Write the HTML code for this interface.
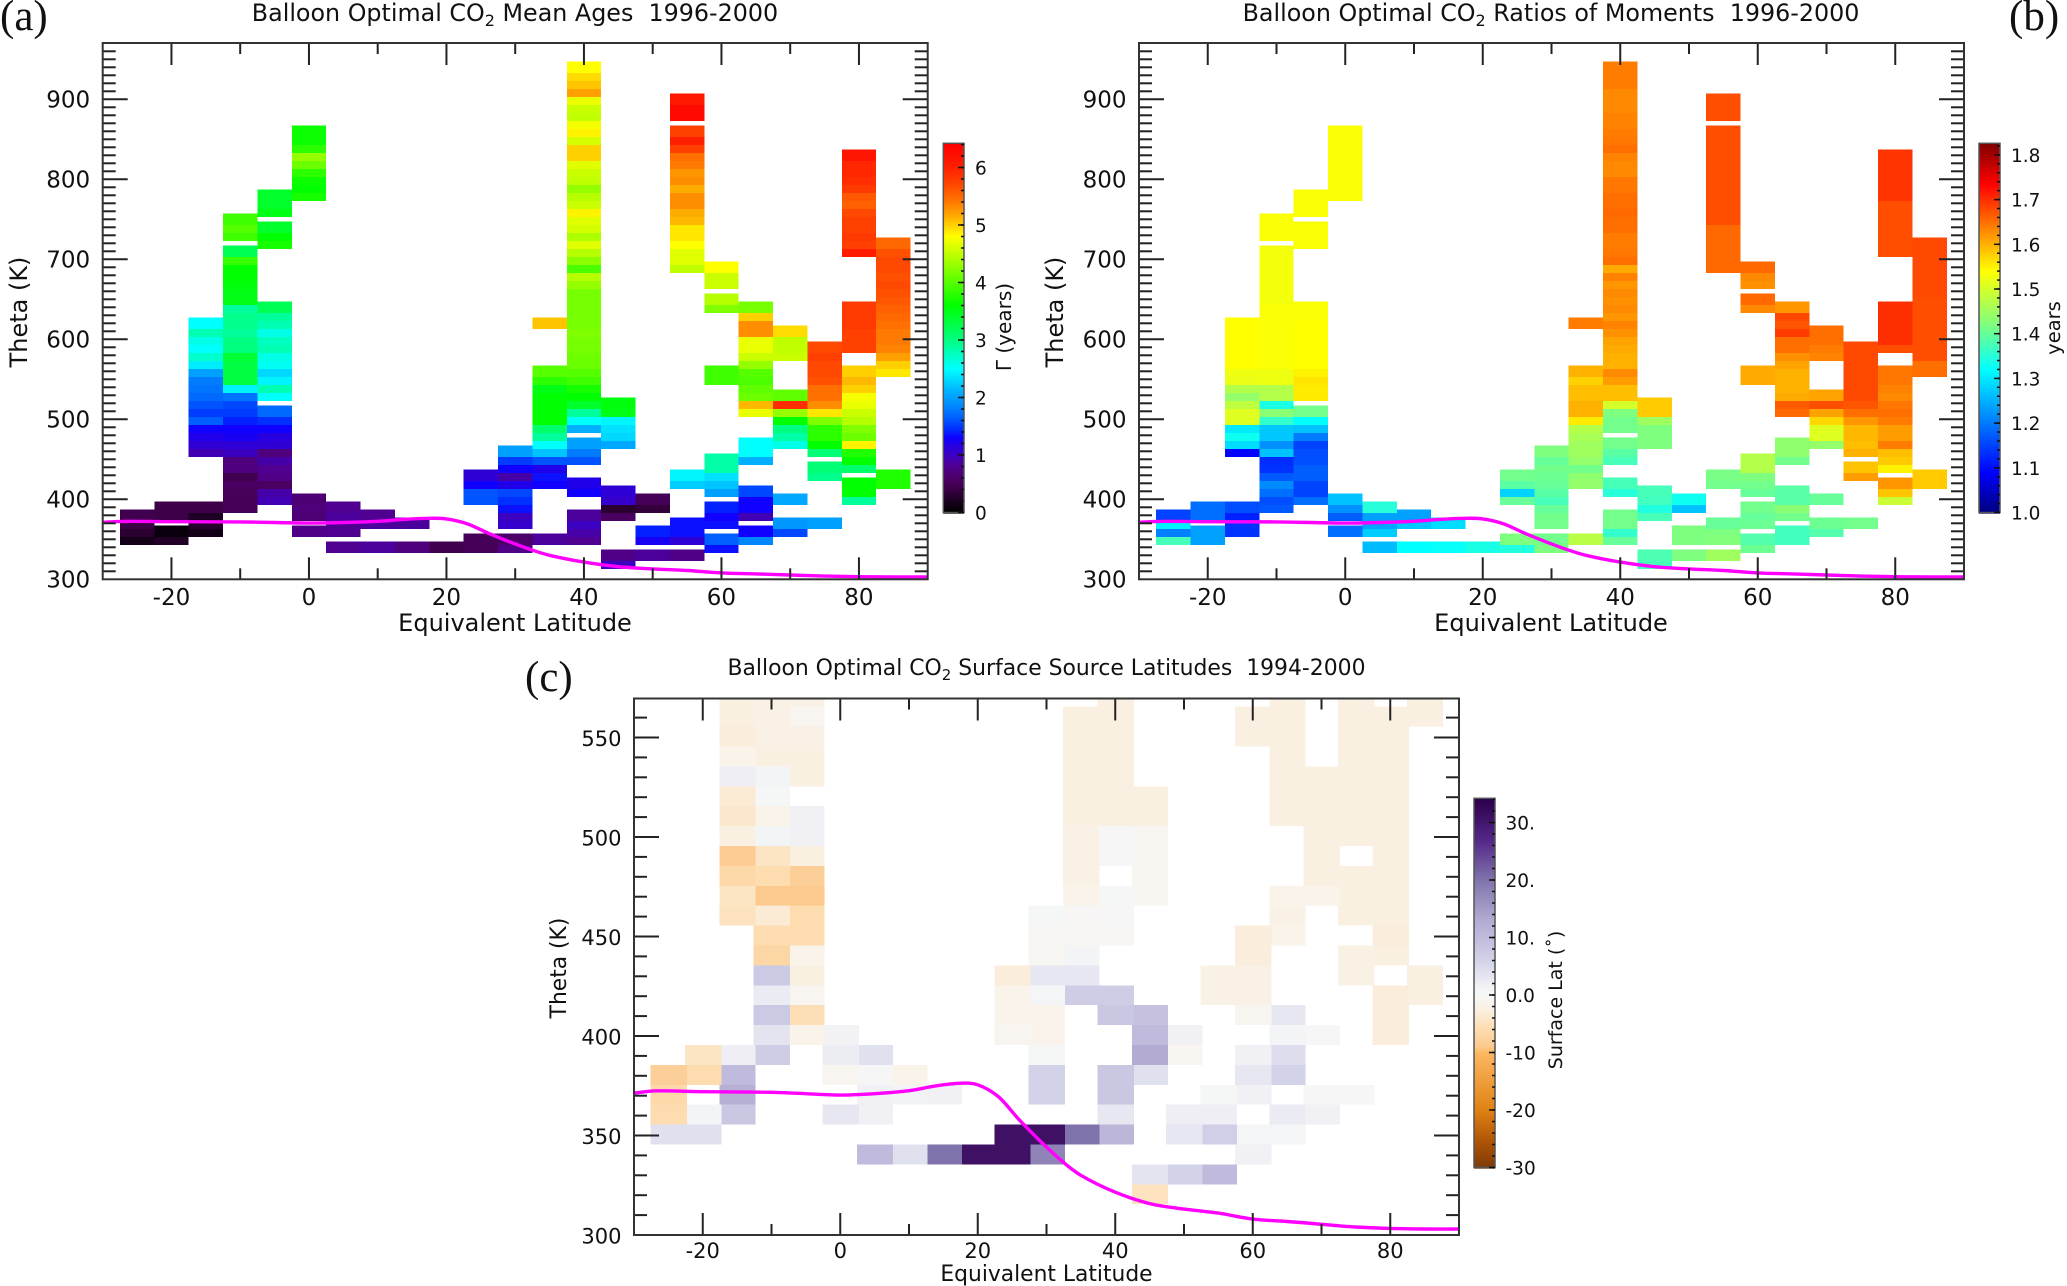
<!DOCTYPE html>
<html lang="en">
<head>
<meta charset="utf-8">
<title>Balloon Optimal CO2 panels</title>
<style>
html,body{margin:0;padding:0;background:#fff;}
svg{display:block;}
text{font-family:"DejaVu Sans","Liberation Sans",sans-serif;fill:#111;white-space:pre;}
.serif{font-family:"Liberation Serif","DejaVu Serif",serif;font-size:43px;}
.title-a{font-size:23.8px;}
.title-c{font-size:21.9px;}
.axis-big{font-size:23px;}
.axis-small{font-size:21px;}
.axis-title-big{font-size:24px;}
.axis-title-small{font-size:21.8px;}
.cb{font-size:18.5px;}
</style>
</head>
<body>
<svg id="figure" xmlns="http://www.w3.org/2000/svg" width="2067" height="1286" viewBox="0 0 2067 1286">
  <rect width="2067" height="1286" fill="#fff"/>
  <g id="panel-a"></g>
  <g id="panel-b"></g>
  <g id="panel-c"></g>

  <text class="serif" x="0" y="30">(a)</text>
  <text class="serif" x="2009" y="30">(b)</text>
  <text class="serif" x="525" y="691">(c)</text>

  <text class="title-a" x="515" y="21" text-anchor="middle">Balloon Optimal CO<tspan font-size="16" dy="5">2</tspan><tspan dy="-5"> Mean Ages  1996-2000</tspan></text>
  <text class="title-a" x="1551" y="21" text-anchor="middle">Balloon Optimal CO<tspan font-size="16" dy="5">2</tspan><tspan dy="-5"> Ratios of Moments  1996-2000</tspan></text>
  <text class="title-c" x="1046.5" y="675" text-anchor="middle">Balloon Optimal CO<tspan font-size="15" dy="5">2</tspan><tspan dy="-5"> Surface Source Latitudes  1994-2000</tspan></text>

  <text class="axis-title-big" x="515" y="631" text-anchor="middle">Equivalent Latitude</text>
  <text class="axis-title-big" x="1551" y="631" text-anchor="middle">Equivalent Latitude</text>
  <text class="axis-title-small" x="1046.5" y="1281" text-anchor="middle">Equivalent Latitude</text>

  <text class="axis-title-big" transform="translate(27,312) rotate(-90)" text-anchor="middle">Theta (K)</text>
  <text class="axis-title-big" transform="translate(1063,312) rotate(-90)" text-anchor="middle">Theta (K)</text>
  <text class="axis-title-small" transform="translate(566,968) rotate(-90)" text-anchor="middle">Theta (K)</text>

  <text font-size="20" transform="translate(1011,327) rotate(-90)" text-anchor="middle">Γ (years)</text>
  <text font-size="19.5" transform="translate(2060,328) rotate(-90)" text-anchor="middle">years</text>
  <text font-size="19" transform="translate(1562,1000) rotate(-90)" text-anchor="middle">Surface Lat (˚)</text>
</svg>
<script>
// ---- chart data -------------------------------------------------------
// Tropopause curve (latitude, theta K), shared by all panels
const tropopauseLat = [-30,-27,-20,-10,-5,0,5,10,14,17.5,20,23,26,29,32.3,35,40,45,50,55,60,65,70,75,80,85,90];
const tropopauseTheta = [371.3,372.4,372,371.7,371,370.3,371,372.5,375,376.3,375.5,369.5,358,347.5,337,330,321.5,315.8,313,311,308,306.8,305.4,304,303.3,303,303];

const xMajorTicks = [-20,0,20,40,60,80];
const xMinorTicks = [-10,10,30,50,70];
const thetaMajorAB = [300,400,500,600,700,800,900];
const thetaMajorC = [300,350,400,450,500,550];
const ageBarTicks = [0,1,2,3,4,5,6];
const ratioBarTicks = [1.0,1.1,1.2,1.3,1.4,1.5,1.6,1.7,1.8];
const surfaceBarTicks = [-30,-20,-10,0,10,20,30];
const surfaceBarLabels = ['-30','-20','-10','0.0','10.','20.','30.'];

// Theta levels: level n has its lower edge at base + n*step
const abThetaBase = 333;
const cThetaBase = 315.5;

// Mean age (years): [latitude, first level, values upward...]
const ageColumns = [
[-25,1,.15,.3,.4,.45],
[-20,1,.25,.08],[-20,4,.42,.42],
[-15,2,.15,.28,.22,.42],
[-15,12,.95,1.1,1.2,1.3,1.65,1.5,1.6,1.7,1.75,1.8,2.0,2.4,2.7,2.5,2.6,2.8,2.5],
[-10,5,.5,.5,.5,.55,.45,.7,.7,1.0,1.1,1.25,1.3,1.4,1.5,1.55,1.75,2.45,3.3,3.3,3.3,3.35,3.0,3.0,2.9,2.95,2.95,2.9,3.5,3.5,3.55,3.6,3.6,3.85,3.2],
[-10,39,3.9,4.0,3.9],
[-5,6,.95,.9,.55,.75,.8,.9,.7,1.1,1.15,1.3,1.45,1.7],
[-5,19,2.5,2.8,2.45,2.3,2.55,2.6,2.8,2.75,2.6,2.8,2.9,3.2],
[-5,38,3.7,3.6,3.4],[-5,42,3.5,3.4,3.4],
[0,2,.75],[0,4,.65,.7,.65],[0,44,3.7,3.6,3.65,3.8,4.1,4.3,3.8,3.65,3.65],
[5,0,.8],[5,2,.8,.8,.85,.8],
[10,0,.85],[10,3,.85,.8],
[15,0,.7],[15,3,.85],
[20,0,.45],
[25,0,.5,.5],[25,6,1.6,1.6,1.3,1.1],
[30,0,.75,.6],[30,3,1.05,1.0,1.35,1.45,1.55,1.2,.9,1.3,1.5,2.0],
[35,1,.85],[35,8,1.3,1.35,1.2,1.6,2.2,2.5,2.9,3.1,3.6,3.6,3.6,3.6,3.5,3.8,4.0],[35,28,5.05],
[40,1,.8,.9,1.0,.85],[40,7,1.3,1.2],[40,11,1.6,1.8,2.0],
[40,15,2.1,2.5,2.9,3.4,3.6,3.7,3.9,4,4.1,4.1,4.15,4.15,4.2,4.15,4.15,4.15,4.15,4.15,4.3,4.45,3.95,4.25,4.45,4.65,4.4,4.6,4.65,4.85,4.55,4.45,4.3,4.5,4.55,4.65,5,5,4.6,4.85,4.75,4.5,4.55,4.7,5.2,5.05,4.95,4.8],
[45,-2,1.0,.75],[45,4,.55,.3,1.05,1.1],[45,13,2.05,2.3,2.35,2.45,3.5,3.55],
[50,-1,.85],[50,1,1.25,1.4],[50,5,.35,.5],
[55,-1,.75],[55,1,1.1,1.35,1.35],[55,8,2.25,2.45],
[55,35,4.5,4.65,4.65,4.8,4.9,4.9,5.1,5.15,5.3,5.3,5.15,5.3,5.25,5.4,5.45,5.75,6.0,5.75],[55,54,6.3,6.3,6.1],
[60,0,1.35,1.65],[60,3,1.35,1.3,1.4],[60,7,2.0,2.2,2.35,2.85,2.85],[60,21,3.9,3.9],[60,30,4.2,4.45],[60,33,4.55,4.55,4.8],
[65,1,1.85,1.3],[65,4,.95,1.3,1.3,1.55],[65,11,2.1,2.5,2.5],[65,17,4.7,5.1,4.1,4.05,3.95,4.0,4.3,4.55,4.7,4.7],[65,27,5.3,5.3,5.0,4.15],
[70,2,1.55,1.95],[70,6,2.05],[70,13,2.6,2.85,3.0,3.6,4.3,5.9,4.05],[70,24,4.55,4.5,4.5,4.95],
[75,3,2.0],[75,9,2.95,3.05],[75,12,3.05,3.6,3.8,3.8],[75,16,4.2,4.9,5.3,5.45,5.45,5.65,5.7,5.7,5.75,5.7],
[80,6,2.9,3.6,3.6],[80,10,3.1,3.6,3.75,4.85,4.1,4.2,4.45,4.55,4.7,4.75,5.0,5.1,5.0],[80,25,5.75,5.75,5.75,5.8,5.8,5.8],[80,37,6.05,5.75,5.8,5.75,5.75,5.7,5.55,5.6,5.8,5.9,5.95,5.95,6.15],
[85,8,3.75,3.75],[85,22,4.9,5.0,5.2,5.35,5.4,5.4,5.45,5.5,5.55,5.6,5.65,5.7,5.65,5.7,5.7,5.65,5.5]
];

// Ratio of moments (years): [latitude, first level, values upward...]
const ratioColumns = [
[-25,1,1.375,1.205,1.31,1.15],
[-20,1,1.235,1.235],[-20,4,1.19,1.19],
[-15,2,1.135,1.135,1.12,1.16],
[-15,12,1.09,1.29,1.33,1.30,1.51,1.51,1.48,1.44,1.47,1.52,1.525,1.54,1.54,1.54,1.54,1.54,1.54],
[-10,5,1.17,1.16,1.19,1.215,1.17,1.135,1.13,1.265,1.22,1.27,1.27,1.36,1.43,1.34,1.47,1.47,1.525,1.525,1.535,1.535,1.535,1.535,1.535,1.535,1.535,1.535,1.53,1.53,1.53,1.53,1.53,1.53,1.53],
[-10,39,1.535,1.535,1.535],
[-5,6,1.19,1.15,1.15,1.175,1.175,1.16,1.16,1.15,1.2,1.265,1.32,1.41],
[-5,19,1.555,1.555,1.56,1.55,1.54,1.54,1.54,1.54,1.54,1.54,1.535,1.535],
[-5,38,1.535,1.535,1.535],[-5,42,1.535,1.535,1.535],
[0,2,1.19],[0,4,1.175,1.22,1.265],[0,44,1.535,1.535,1.535,1.535,1.535,1.535,1.535,1.535,1.535],
[5,0,1.26],[5,2,1.275,1.24,1.235,1.35],
[10,0,1.32],[10,3,1.27,1.235],
[15,0,1.325],[15,3,1.29],
[20,0,1.34],
[25,0,1.345,1.42],[25,6,1.40,1.28,1.39,1.41],
[30,0,1.42,1.41],[30,3,1.41,1.41,1.40,1.375,1.39,1.40,1.405,1.41,1.40,1.42],
[35,1,1.475],[35,8,1.44,1.435,1.41,1.44,1.45,1.45,1.46,1.47,1.555,1.60,1.60,1.59,1.59,1.575,1.60],[35,28,1.64],
[40,1,1.40,1.36,1.41,1.41],[40,7,1.35,1.375],[40,11,1.375,1.39,1.41],
[40,15,1.41,1.41,1.42,1.5,1.59,1.59,1.615,1.63,1.60,1.60,1.605,1.61,1.625,1.635,1.62,1.63,1.625,1.63,1.62,1.635,1.605,1.65,1.645,1.64,1.64,1.65,1.65,1.655,1.65,1.65,1.645,1.645,1.63,1.63,1.635,1.65,1.645,1.64,1.635,1.635,1.63,1.63,1.63,1.64,1.64,1.64],
[45,-2,1.375,1.38],[45,4,1.375,1.345,1.37,1.375],[45,13,1.42,1.42,1.42,1.45,1.58,1.58],
[50,-1,1.42],[50,1,1.42,1.42],[50,5,1.265,1.33],
[55,-1,1.45],[55,1,1.425,1.42,1.40],[55,8,1.41,1.415],
[55,35,1.655,1.655,1.655,1.655,1.655,1.655,1.675,1.675,1.675,1.675,1.675,1.675,1.675,1.675,1.675,1.675,1.675,1.675],[55,54,1.675,1.675,1.675],
[60,0,1.405,1.385],[60,3,1.405,1.40,1.41],[60,7,1.40,1.41,1.42,1.47,1.47],[60,21,1.605,1.605],[60,30,1.63,1.655],[60,33,1.625,1.63,1.655],
[65,1,1.37,1.37],[65,4,1.41,1.43,1.39,1.39],[65,11,1.41,1.435,1.435],[65,17,1.655,1.665,1.605,1.6,1.6,1.6,1.61,1.625,1.65,1.65],[65,27,1.69,1.67,1.68,1.62],
[70,2,1.385,1.405],[70,6,1.40],[70,13,1.44,1.51,1.51,1.57,1.61,1.675,1.61],[70,24,1.635,1.64,1.65,1.65],
[75,3,1.41],[75,9,1.615,1.585],[75,12,1.60,1.59,1.595,1.595],[75,16,1.62,1.65,1.67,1.68,1.68,1.68,1.68,1.68,1.68,1.68],
[80,6,1.49,1.585,1.62],[80,10,1.55,1.58,1.59,1.64,1.615,1.615,1.64,1.65,1.645,1.63,1.635,1.645,1.645],[80,25,1.675,1.70,1.70,1.70,1.70,1.70],[80,37,1.675,1.675,1.675,1.675,1.675,1.675,1.675,1.695,1.695,1.695,1.695,1.695,1.695],
[85,8,1.58,1.58],[85,22,1.65,1.65,1.675,1.675,1.675,1.675,1.675,1.675,1.675,1.675,1.68,1.68,1.68,1.68,1.68,1.68,1.68]
];

// Surface source latitude (degrees): [latitude, first level, values upward...]
const surfaceColumns = [
[-25,3,4,-6,-6.5,-8],
[-20,3,4,1],[-20,6,-6,-4.5],
[-15,4,8,12,10,2],[-15,14,-5,-4.5,-6.5,-8.5,-2.5,-4,-3.5,2,-1.5,-3,-2.5,-2.5],
[-10,7,7,3.5,7.5,2.5,7.5,-7,-6,-3.5,-9,-6,-4.5,1,-1.5,.5,1,-2.5,-2,-2,-2],
[-5,8,-1.5,-5.5,-.7,-2.5,-1.5,-6,-6,-9,-8,-2.5,1.5,1.7],[-5,21,-2.5,-2.5,-2,-1,-2],
[0,4,3],[0,6,-.8,2.3,1.3],
[5,2,10],[5,4,1.5,1.5,.3,4],
[10,2,4],[10,5,1.2,-1.5],
[15,2,20],[15,5,1.5],
[20,2,31],
[25,2,31,31],[25,8,-1,-1.3,-1.5,-3],
[30,2,18,31],[30,5,6,6,.5,-1.3,-1.3,.7,3,-.5,-.5,.4],
[35,3,20],[35,10,7,3,1,-.5,-.3,-1.5,-2,-2,-2,-2.5,-2.5,-2.5,-2.5,-2.5,-2.5],
[40,3,11,3,8,8],[40,9,8,7],[40,13,-.5,.2,.5],[40,17,.3,.2,-2.5,-2.5,-2.5,-2.5,-2.5,-2.5,-2.5],
[45,0,-5,3.5],[45,6,4,13,10,9],[45,15,-1,-1,-1,-1,-2.5,-2.5],
[50,1,6],[50,3,3,2],[50,7,-1,1.5],
[55,1,10],[55,3,6.5,2,.5],[55,10,-2,-2],
[60,2,1.5,.7],[60,5,1.5,3,1.5],[60,9,-.7,-2,-2,-3,-3],[60,23,-2.5,-2.5],
[65,3,.7,2.5],[65,6,6,4.5,1,3],[65,13,-1.5,-2,-1.5],[65,19,-2.5,-2.5,-2.5,-2.5,-2.5,-2.5,-2.5],
[70,4,1.5,.3],[70,8,.3],[70,15,-1.5,-2.5,-2.5,-2.5,-2.5,-2.5,-2.5],
[75,5,.3],[75,11,-2.2,-2.2],[75,14,-2.5,-2.5,-2.5],[75,18,-2.5,-2.5,-2.5,-2.5,-2.5,-2.5,-2.5,-2.5],
[80,8,-3,-3,-3],[80,12,-2.5,-3,-2.5,-2.5,-2.5,-2.5,-2.5,-2.5,-2.5,-2.5,-2.5,-2.5,-2.5],
[85,10,-2.5,-2.5],[85,24,-2.5,-2.5]
];

// Colour tables: value, colour
const ageColorValues = [0,.2,.3,.4,.55,.8,1,1.15,1.3,1.45,1.65,1.9,2.1,2.3,2.5,2.75,3,3.3,3.6,3.9,4.2,4.5,4.8,5,5.2,5.45,5.75,6,6.42];
const ageColorHex = ['000000','1a0020','2a0030','3c0046','4a0060','500090','3c00c0','2800e0','1000ff','0030ff','0060ff','0090ff','00b0ff','00d8ff','00ffff','00ffc0','00ff80','00ff40','00ff00','40ff00','80ff00','c0ff00','ffff00','ffd000','ffa000','ff7000','ff4000','ff2000','ff0000'];
const ratioColorValues = [1,1.09,1.32,1.42,1.54,1.735,1.826];
const ratioColorHex = ['00007f','0000ff','00ffff','7fff7f','ffff00','ff0000','7f0000'];
const surfaceColorValues = [-30,-25,-20,-10,-9,-6,-2.5,0,1,2,3,4,6,8,10,13,20,27,34];
const surfaceColorHex = ['7f3b08','b35806','e08214','fdb863','fcc98e','fddcb0','faf0e2','f7f7f7','f3f4f5','eeeef4','e7e7f2','e0e1ee','d2d2e8','c9c7e2','c0bbdc','b3abd2','8073ac','542788','2d004b'];

// ---- drawing ----------------------------------------------------------
const NS = 'http://www.w3.org/2000/svg';
function el(parent, tag, attrs){
  const node = document.createElementNS(NS, tag);
  for(const k in attrs) node.setAttribute(k, attrs[k]);
  parent.appendChild(node);
  return node;
}
function colorAt(values, hex, v){
  if(v <= values[0]) return '#' + hex[0];
  for(let i = 1; i < values.length; i++){
    if(v <= values[i]){
      const t = (v - values[i-1]) / (values[i] - values[i-1]);
      const a = hex[i-1], b = hex[i];
      let out = '#';
      for(let j = 0; j < 6; j += 2){
        const c = Math.round(parseInt(a.substr(j,2),16) * (1-t) + parseInt(b.substr(j,2),16) * t);
        out += ('0' + c.toString(16)).slice(-2);
      }
      return out;
    }
  }
  return '#' + hex[hex.length-1];
}
function drawLine(g, p){
  const P = tropopauseLat.map((lat, i) => [p.x(lat), p.y(tropopauseTheta[i])]);
  let d = 'M' + P[0][0].toFixed(1) + ' ' + P[0][1].toFixed(1);
  for(let i = 0; i < P.length - 1; i++){
    const a = P[Math.max(i-1,0)], b = P[i], c = P[i+1], e = P[Math.min(i+2,P.length-1)];
    const h0 = (c[0]-b[0]) / 3, h1 = (c[0]-b[0]) / 3;
    const s0 = (c[1]-a[1]) / ((c[0]-a[0]) || 1), s1 = (e[1]-b[1]) / ((e[0]-b[0]) || 1);
    d += ' C' + (b[0]+h0).toFixed(1) + ' ' + (b[1]+s0*h0).toFixed(1) + ' ' +
         (c[0]-h1).toFixed(1) + ' ' + (c[1]-s1*h1).toFixed(1) + ' ' +
         c[0].toFixed(1) + ' ' + c[1].toFixed(1);
  }
  const line = el(g, 'path', {d: d, fill: 'none', stroke: '#ff00ff', 'stroke-width': 3.4, 'stroke-linejoin': 'round'});
  
  
}
function drawAxes(g, p){
  const axes = el(g, 'g', {stroke: '#222', 'stroke-width': 2});
  
  
  const left = p.x(-30), right = p.x(90), bottom = p.y(300), top = p.top;
  xMajorTicks.forEach(v => {
    const X = p.x(v);
    el(axes, 'line', {x1: X, x2: X, y1: bottom, y2: bottom - 22});
    el(axes, 'line', {x1: X, x2: X, y1: top, y2: top + 22});
    const t = el(g, 'text', {x: X, y: p.xLabelY, 'text-anchor': 'middle', 'class': p.font});
    
    
    t.textContent = v;
  });
  xMinorTicks.forEach(v => {
    const X = p.x(v);
    el(axes, 'line', {x1: X, x2: X, y1: bottom, y2: bottom - 11});
    el(axes, 'line', {x1: X, x2: X, y1: top, y2: top + 11});
  });
  for(let th = 310; th < p.thetaMax; th += 10){
    if(p.major.indexOf(th) >= 0) continue;
    const Y = p.y(th);
    el(axes, 'line', {x1: left, x2: left + 13, y1: Y, y2: Y});
    el(axes, 'line', {x1: right, x2: right - 13, y1: Y, y2: Y});
  }
  p.major.forEach(v => {
    const Y = p.y(v);
    if(v > 300){
      el(axes, 'line', {x1: left, x2: left + 25, y1: Y, y2: Y});
      el(axes, 'line', {x1: right, x2: right - 25, y1: Y, y2: Y});
    }
    const t = el(g, 'text', {x: left - 12.5, y: Y + 8.3, 'text-anchor': 'end', 'class': p.font});
    
    
    t.textContent = v;
  });
  el(axes, 'rect', {x: left, y: top, width: right - left, height: bottom - top, fill: 'none', stroke: '#333'});
}
function drawColorbar(g, b){
  const bar = el(g, 'g', {});
  
  
  const Y = v => b.y0 - (v - b.min) * b.k;
  const step = 2;
  for(let py = b.y1; py < b.y0; py += step){
    const v = b.min + (b.y0 - (py + step/2)) / b.k;
    el(bar, 'rect', {x: b.x, y: py, width: b.w, height: step + .4, fill: colorAt(b.values, b.hex, v)});
  }
  el(bar, 'rect', {x: b.x, y: b.y1, width: b.w, height: b.y0 - b.y1, fill: 'none', stroke: '#555', 'stroke-width': 1.5});
  const n = Math.round((b.max - b.min) / b.minor);
  for(let i = 0; i <= n; i++){
    const v = b.min + i * b.minor;
    el(bar, 'line', {x1: b.x + b.w, x2: b.x + b.w - 3, y1: Y(v), y2: Y(v), stroke: '#111', 'stroke-width': 1.5});
  }
  b.ticks.forEach((v, i) => {
    el(bar, 'line', {x1: b.x + b.w, x2: b.x + b.w - 6, y1: Y(v), y2: Y(v), stroke: '#111', 'stroke-width': 1.5});
    const t = el(g, 'text', {x: b.labelX, y: Y(v) + 7, 'class': 'cb'});
    
    
    t.textContent = b.labels ? b.labels[i] : (b.fixed ? v.toFixed(1) : v);
  });
}
function drawCells(g, columns, p){
  const cells = el(g, 'g', {'shape-rendering': 'crispEdges'});
  
  
  const list = [];
  columns.forEach(col => {
    for(let i = 2; i < col.length; i++) list.push({lat: col[0], level: col[1] + i - 2, value: col[i]});
  });
  list.sort(p.order);
  list.forEach(c => {
    const th0 = p.base + c.level * 10;
    const th1 = Math.min(th0 + p.cellK, p.thetaMax);
    const X0 = p.x(c.lat - p.lonW[0]), X1 = p.x(c.lat + p.lonW[1]);
    const rect = el(cells, 'rect', {
      x: X0.toFixed(2), y: p.y(th1).toFixed(2),
      width: (X1 - X0).toFixed(2), height: (p.y(th0) - p.y(th1)).toFixed(2),
      fill: colorAt(p.colorValues, p.colorHex, c.value)
    });
    
    
  });
}
function panel(x0, y300, kY, top, thetaMax, extra){
  return Object.assign({
    x: lat => x0 + (lat + 30) * 6.875,
    y: th => y300 - (th - 300) * kY,
    top: top, thetaMax: thetaMax
  }, extra);
}
const byLevel = (a, b) => a.level - b.level || a.lat - b.lat;
const byLatDesc = (a, b) => b.lat - a.lat || a.level - b.level;

const pA = panel(102.7, 579.3, .8, 43, 970, {major: thetaMajorAB, base: abThetaBase, cellK: 14, lonW: [2.5,2.5], order: byLevel, font: 'axis-big', xLabelY: 605, colorValues: ageColorValues, colorHex: ageColorHex});
const pB = panel(1139, 579.3, .8, 43, 970, {major: thetaMajorAB, base: abThetaBase, cellK: 14, lonW: [2.5,2.5], order: byLevel, font: 'axis-big', xLabelY: 605, colorValues: ratioColorValues, colorHex: ratioColorHex});
const pC = panel(634, 1235, 1.99, 698.5, 569.6, {major: thetaMajorC, base: cThetaBase, cellK: 10, lonW: [2.6,2.7], order: byLatDesc, font: 'axis-small', xLabelY: 1258, colorValues: surfaceColorValues, colorHex: surfaceColorHex});

[[document.getElementById('panel-a'), ageColumns, pA],
 [document.getElementById('panel-b'), ratioColumns, pB],
 [document.getElementById('panel-c'), surfaceColumns, pC]].forEach(a => {
  drawCells(a[0], a[1], a[2]);
  drawLine(a[0], a[2]);
  drawAxes(a[0], a[2]);
});
drawColorbar(document.getElementById('panel-a'), {x: 943.3, w: 20.7, y0: 512.5, y1: 143.3, k: 57.5, min: 0, max: 6.4, minor: .2, ticks: ageBarTicks, labelX: 975, values: ageColorValues, hex: ageColorHex});
drawColorbar(document.getElementById('panel-b'), {x: 1979, w: 21, y0: 512.5, y1: 143.3, k: 447, min: 1, max: 1.82, minor: .02, ticks: ratioBarTicks, fixed: true, labelX: 2011, values: ratioColorValues, hex: ratioColorHex});
drawColorbar(document.getElementById('panel-c'), {x: 1474, w: 21, y0: 1167.5, y1: 798.3, k: 5.75, min: -30, max: 34, minor: 2, ticks: surfaceBarTicks, labels: surfaceBarLabels, labelX: 1505.5, values: surfaceColorValues, hex: surfaceColorHex});
</script>
</body>
</html>
